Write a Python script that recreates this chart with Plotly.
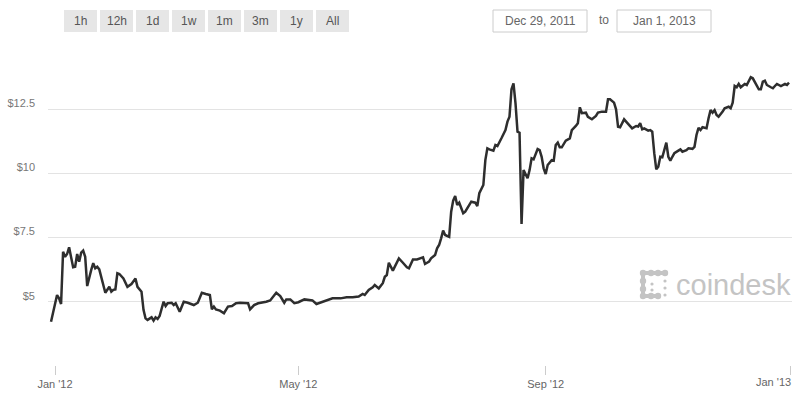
import pandas as pd
import plotly.graph_objects as go

# ---- data ----
dates = [
    "2011-12-30", "2012-01-02", "2012-01-03", "2012-01-04", "2012-01-05", "2012-01-06",
    "2012-01-07", "2012-01-08", "2012-01-10", "2012-01-11", "2012-01-12", "2012-01-13",
    "2012-01-14", "2012-01-15", "2012-01-16", "2012-01-17", "2012-01-19", "2012-01-20",
    "2012-01-21", "2012-01-22", "2012-01-23", "2012-01-25", "2012-01-26", "2012-01-28",
    "2012-01-29", "2012-01-30", "2012-01-31", "2012-02-01", "2012-02-02", "2012-02-04",
    "2012-02-05", "2012-02-06", "2012-02-08", "2012-02-09", "2012-02-10", "2012-02-11",
    "2012-02-13", "2012-02-14", "2012-02-15", "2012-02-16", "2012-02-18", "2012-02-19",
    "2012-02-20", "2012-02-21", "2012-02-22", "2012-02-24", "2012-02-25", "2012-02-26",
    "2012-02-28", "2012-02-29", "2012-03-01", "2012-03-03", "2012-03-05", "2012-03-07",
    "2012-03-10", "2012-03-12", "2012-03-14", "2012-03-16", "2012-03-17", "2012-03-18",
    "2012-03-19", "2012-03-20", "2012-03-21", "2012-03-23", "2012-03-25", "2012-03-27",
    "2012-03-29", "2012-03-31", "2012-04-02", "2012-04-03", "2012-04-06", "2012-04-07",
    "2012-04-09", "2012-04-11", "2012-04-13", "2012-04-15", "2012-04-17", "2012-04-20",
    "2012-04-22", "2012-04-24", "2012-04-25", "2012-04-27", "2012-04-29", "2012-05-01",
    "2012-05-04", "2012-05-06", "2012-05-08", "2012-05-10", "2012-05-12", "2012-05-14",
    "2012-05-18", "2012-05-22", "2012-05-25", "2012-05-28", "2012-05-31", "2012-06-02",
    "2012-06-03", "2012-06-05", "2012-06-07", "2012-06-08", "2012-06-10", "2012-06-12",
    "2012-06-13", "2012-06-14", "2012-06-15", "2012-06-17", "2012-06-19", "2012-06-20",
    "2012-06-22", "2012-06-24", "2012-06-25", "2012-06-27", "2012-06-29", "2012-07-01",
    "2012-07-02", "2012-07-03", "2012-07-05", "2012-07-06", "2012-07-08", "2012-07-09",
    "2012-07-10", "2012-07-11", "2012-07-12", "2012-07-13", "2012-07-15", "2012-07-16",
    "2012-07-17", "2012-07-18", "2012-07-19", "2012-07-20", "2012-07-22", "2012-07-23",
    "2012-07-25", "2012-07-26", "2012-07-28", "2012-07-29", "2012-07-30", "2012-08-01",
    "2012-08-02", "2012-08-03", "2012-08-04", "2012-08-06", "2012-08-07", "2012-08-08",
    "2012-08-10", "2012-08-11", "2012-08-12", "2012-08-13", "2012-08-14", "2012-08-15",
    "2012-08-16", "2012-08-17", "2012-08-18", "2012-08-19", "2012-08-20", "2012-08-21",
    "2012-08-22", "2012-08-23", "2012-08-24", "2012-08-25", "2012-08-26", "2012-08-27",
    "2012-08-28", "2012-08-29", "2012-08-30", "2012-08-31", "2012-09-01", "2012-09-02",
    "2012-09-04", "2012-09-05", "2012-09-06", "2012-09-07", "2012-09-08", "2012-09-09",
    "2012-09-11", "2012-09-13", "2012-09-14", "2012-09-16", "2012-09-17", "2012-09-18",
    "2012-09-19", "2012-09-21", "2012-09-22", "2012-09-24", "2012-09-26", "2012-09-27",
    "2012-09-29", "2012-10-01", "2012-10-02", "2012-10-03", "2012-10-05", "2012-10-06",
    "2012-10-07", "2012-10-08", "2012-10-10", "2012-10-11", "2012-10-13", "2012-10-14",
    "2012-10-16", "2012-10-17", "2012-10-18", "2012-10-19", "2012-10-20", "2012-10-22",
    "2012-10-23", "2012-10-24", "2012-10-25", "2012-10-26", "2012-10-27", "2012-10-28",
    "2012-10-29", "2012-10-30", "2012-10-31", "2012-11-01", "2012-11-02", "2012-11-03",
    "2012-11-04", "2012-11-06", "2012-11-07", "2012-11-08", "2012-11-10", "2012-11-11",
    "2012-11-13", "2012-11-14", "2012-11-15", "2012-11-16", "2012-11-17", "2012-11-18",
    "2012-11-20", "2012-11-21", "2012-11-22", "2012-11-23", "2012-11-24", "2012-11-25",
    "2012-11-26", "2012-11-28", "2012-11-29", "2012-12-01", "2012-12-02", "2012-12-03",
    "2012-12-04", "2012-12-05", "2012-12-06", "2012-12-07", "2012-12-09", "2012-12-10",
    "2012-12-11", "2012-12-12", "2012-12-13", "2012-12-14", "2012-12-15", "2012-12-16",
    "2012-12-17", "2012-12-18", "2012-12-19", "2012-12-20", "2012-12-22", "2012-12-23",
    "2012-12-24", "2012-12-25", "2012-12-27", "2012-12-28", "2012-12-29", "2012-12-30",
    "2012-12-31",
]
prices = [
    4.22, 5.26, 5.13, 4.91, 6.95, 6.75,
    6.86, 7.12, 6.34, 6.36, 6.86, 6.56,
    6.91, 6.99, 6.75, 5.61, 6.24, 6.50,
    6.30, 6.36, 6.26, 5.72, 5.35, 5.58,
    5.39, 5.46, 5.48, 6.11, 6.08, 5.91,
    5.74, 5.58, 5.69, 5.78, 5.90, 5.58,
    5.39, 4.68, 4.35, 4.29, 4.39, 4.26,
    4.39, 4.33, 4.44, 5.00, 4.83, 4.94,
    4.96, 4.87, 4.94, 4.61, 5.00, 4.96,
    4.87, 4.96, 5.35, 5.30, 5.28, 5.26,
    4.70, 4.81, 4.70, 4.65, 4.55, 4.81,
    4.83, 4.94, 4.96, 4.96, 4.94, 4.70,
    4.87, 4.94, 4.96, 5.00, 5.05, 5.35,
    5.22, 4.96, 5.09, 5.09, 4.94, 4.98,
    5.09, 5.07, 5.05, 4.91, 4.96, 5.00,
    5.13, 5.13, 5.17, 5.17, 5.20, 5.30,
    5.26, 5.46, 5.56, 5.65, 5.52, 5.72,
    5.97, 6.04, 6.52, 6.21, 6.52, 6.69,
    6.52, 6.34, 6.30, 6.65, 6.65, 6.69,
    6.73, 6.47, 6.56, 6.69, 6.82, 7.08,
    7.21, 7.47, 7.77, 7.60, 7.53, 8.51,
    8.94, 9.12, 8.77, 8.86, 8.45, 8.51,
    8.77, 8.90, 8.86, 8.73, 9.23, 9.55,
    10.52, 10.98, 10.94, 10.89, 11.11, 11.07,
    11.37, 11.54, 11.69, 12.02, 12.21, 13.28,
    13.51, 12.73, 11.63, 11.59, 8.03, 10.13,
    9.94, 9.81, 10.13, 10.59, 10.55, 10.72,
    10.95, 10.91, 10.65, 10.20, 9.98, 10.33,
    10.52, 10.50, 11.11, 11.20, 11.02, 11.02,
    11.28, 11.37, 11.69, 11.85, 11.96, 12.58,
    12.35, 12.37, 12.21, 12.11, 12.24, 12.37,
    12.41, 12.41, 12.89, 12.89, 12.76, 12.50,
    11.82, 11.80, 12.11, 12.02, 11.85, 11.76,
    11.85, 11.83, 11.96, 11.72, 11.76, 11.67,
    11.69, 11.63, 10.79, 10.16, 10.26, 10.65,
    10.63, 10.91, 11.20, 10.65, 10.50, 10.65,
    10.79, 10.89, 10.94, 10.85, 10.91, 10.98,
    10.96, 11.04, 11.50, 11.78, 11.69, 11.80,
    11.76, 12.15, 12.47, 12.37, 12.47, 12.28,
    12.21, 12.41, 12.54, 12.60, 12.54, 12.76,
    13.41, 13.36, 13.49, 13.36, 13.49, 13.45,
    13.62, 13.75, 13.71, 13.58, 13.41, 13.28,
    13.28, 13.58, 13.62, 13.45, 13.36, 13.32,
    13.41, 13.49, 13.41, 13.45, 13.49, 13.45,
    13.54,
]
x_tick_dates = ["2012-01-01", "2012-05-01", "2012-09-01", "2013-01-01"]
x_tick_labels = ["Jan '12", "May '12", "Sep '12", "Jan '13"]
y_tick_values = [5, 7.5, 10, 12.5]
y_tick_labels = ["$5", "$7.5", "$10", "$12.5"]
range_buttons = ["1h", "12h", "1d", "1w", "1m", "3m", "1y", "All"]
date_from = "Dec 29, 2011"
date_to = "Jan 1, 2013"
brand = "coindesk"

# ---- layout geometry (pixels) ----
W, H = 800, 400
L, R, T, B = 48, 8, 45, 35
PW, PH = W - L - R, H - T - B


def px(x):
    return (x - L) / PW


def py(y):
    return (H - B - y) / PH


FONT = "Liberation Sans, Arial, sans-serif"

fig = go.Figure()
fig.add_trace(go.Scatter(
    x=pd.to_datetime(dates), y=prices, mode="lines",
    line=dict(color="#2e2e2e", width=2.5), hoverinfo="x+y", showlegend=False,
))

shapes = []
annotations = []

# range buttons
for i, lab in enumerate(range_buttons):
    x0 = 64 + i * 36
    shapes.append(dict(type="rect", xref="paper", yref="paper",
                       x0=px(x0), x1=px(x0 + 33), y0=py(32), y1=py(10),
                       fillcolor="#e6e6e6", line=dict(width=0), layer="above"))
    annotations.append(dict(xref="paper", yref="paper", x=px(x0 + 16.5), y=py(21),
                            text=lab, showarrow=False, xanchor="center", yanchor="middle",
                            font=dict(family=FONT, size=12, color="#555555")))

# date boxes
for (x0, x1, txt) in [(493, 587, date_from), (617, 711, date_to)]:
    shapes.append(dict(type="rect", xref="paper", yref="paper",
                       x0=px(x0), x1=px(x1), y0=py(32), y1=py(10),
                       fillcolor="white", line=dict(color="#cccccc", width=1)))
    annotations.append(dict(xref="paper", yref="paper", x=px((x0 + x1) / 2), y=py(21),
                            text=txt, showarrow=False, xanchor="center", yanchor="middle",
                            font=dict(family=FONT, size=12, color="#666666")))
annotations.append(dict(xref="paper", yref="paper", x=px(604), y=py(20),
                        text="to", showarrow=False, xanchor="center", yanchor="middle",
                        font=dict(family=FONT, size=12, color="#666666")))

# last x tick label, kept inside the page
annotations.append(dict(xref="paper", yref="paper", x=px(793), y=py(382),
                        text=x_tick_labels[-1], showarrow=False, xanchor="right",
                        yanchor="middle", font=dict(family=FONT, size=11, color="#666666")))

# brand logo
LOGO = "#c4c4c4"
annotations.append(dict(xref="paper", yref="paper", x=px(674), y=py(285),
                        text=brand, showarrow=False, xanchor="left", yanchor="middle",
                        font=dict(family=FONT, size=29, color=LOGO)))
dots_big = [(643, 273), (651, 273), (658, 273), (665, 273),
            (643, 281), (643, 289), (643, 296), (651, 296), (658, 296)]
for (cx, cy) in dots_big:
    shapes.append(dict(type="circle", xref="paper", yref="paper",
                       x0=px(cx - 3.2), x1=px(cx + 3.2), y0=py(cy + 3.2), y1=py(cy - 3.2),
                       fillcolor=LOGO, line=dict(width=0)))
for (x0, y0, x1, y1) in [(643, 273, 665, 273), (643, 273, 643, 296), (643, 296, 658, 296)]:
    shapes.append(dict(type="line", xref="paper", yref="paper",
                       x0=px(x0), x1=px(x1), y0=py(y0), y1=py(y1),
                       line=dict(color=LOGO, width=4)))
for (cx, cy) in [(652, 284), (652, 290), (665, 281), (665, 288), (665, 295)]:
    shapes.append(dict(type="circle", xref="paper", yref="paper",
                       x0=px(cx - 1.6), x1=px(cx + 1.6), y0=py(cy + 1.6), y1=py(cy - 1.6),
                       fillcolor=LOGO, line=dict(width=0)))

fig.update_layout(
    width=W, height=H, autosize=False,
    margin=dict(l=L, r=R, t=T, b=B, pad=0),
    paper_bgcolor="white", plot_bgcolor="white",
    shapes=shapes, annotations=annotations,
    xaxis=dict(
        type="date",
        range=["2011-12-28 12:00", "2013-01-01 12:00"],
        tickvals=pd.to_datetime(x_tick_dates),
        ticktext=x_tick_labels[:-1] + [""],
        ticks="outside", ticklen=9, tickwidth=1, tickcolor="#cccccc",
        showgrid=False, showline=False, zeroline=False,
        tickfont=dict(family=FONT, size=11, color="#666666"),
        fixedrange=True,
    ),
    yaxis=dict(
        range=[2.532, 15.008],
        tickvals=y_tick_values, ticktext=y_tick_labels,
        showgrid=True, gridcolor="#e3e3e3", gridwidth=1,
        showline=False, zeroline=False, ticks="",
        ticklabelshift=-6, ticklabelstandoff=12,
        tickfont=dict(family=FONT, size=11, color="#777777"),
        fixedrange=True,
    ),
    hovermode="closest",
)

fig.write_html(
    "out.html",
    config={"displayModeBar": False},
    post_script="document.body.style.margin='0';document.body.style.padding='0';",
)
